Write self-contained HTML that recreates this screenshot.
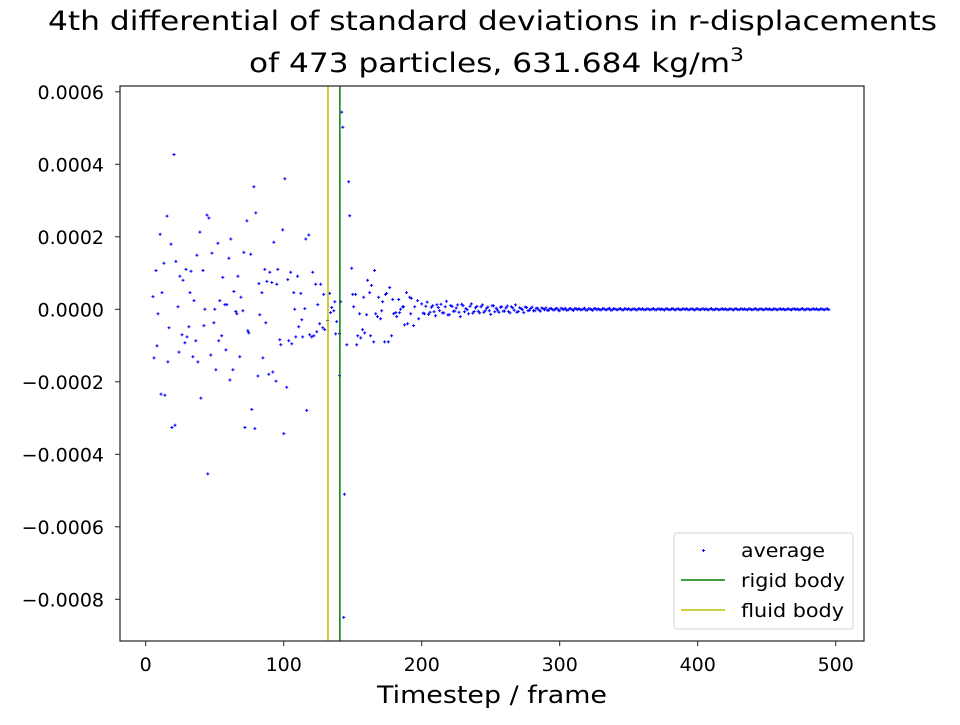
<!DOCTYPE html>
<html><head><meta charset="utf-8"><style>
body{margin:0;background:#fff;}
svg text{font-family:"DejaVu Sans","Liberation Sans",sans-serif;fill:#000;}
</style></head><body>
<svg id="chart" width="960" height="720" viewBox="0 0 960 720" xmlns="http://www.w3.org/2000/svg">
<rect x="0" y="0" width="960" height="720" fill="#fff"/>
<g>
<text x="48" y="30" font-size="27" textLength="889" lengthAdjust="spacingAndGlyphs">4th differential of standard deviations in r-displacements</text>
<text x="249" y="72" font-size="27" textLength="495" lengthAdjust="spacingAndGlyphs">of 473 particles, 631.684 kg/m<tspan font-size="19" dy="-11">3</tspan></text>
</g>
<g id="marks"></g>
<g id="axes"></g>
<rect x="120" y="86" width="744" height="555" fill="none" stroke="#222" stroke-width="1.2"/>
<text x="377" y="703" font-size="24" textLength="230" lengthAdjust="spacingAndGlyphs">Timestep / frame</text>
<g>
<rect x="674" y="533" width="179" height="96" rx="3" fill="#fff" stroke="#d5d5d5"/>
<g><path d="M702 550.5h3M703.5 549v3" stroke="#00f" stroke-width="1"/><text x="741" y="557" font-size="19" textLength="84" lengthAdjust="spacingAndGlyphs">average</text></g>
<g><line x1="681" y1="580" x2="725" y2="580" stroke="#008000" stroke-width="1.5"/><text x="741" y="587" font-size="19" textLength="104" lengthAdjust="spacingAndGlyphs">rigid body</text></g>
<g><line x1="681" y1="610" x2="725" y2="610" stroke="#bfbf00" stroke-width="1.5"/><text x="741" y="617" font-size="19" textLength="103" lengthAdjust="spacingAndGlyphs">fluid body</text></g>
</g>
</svg>
<script>
const xTicks=[0,100,200,300,400,500];
const yTicks=[0.0006,0.0004,0.0002,0,-0.0002,-0.0004,-0.0006,-0.0008];
const yTickLabels=["0.0006","0.0004","0.0002","0.0000","\u22120.0002","\u22120.0004","\u22120.0006","\u22120.0008"];
const rigidFrame=140.7;
const fluidFrame=132.1;
// scattered points: frames and values (units of 1e-4)
const frames=[20.5,78.4,15.4,44.4,45.8,79.8,73.3,10.4,39.3,61.7,18.3,52.3,37.1,48,71.1,76.1,60.3,13.2,21.9,7.5,29.2,32.8,41.5,24.8,27,55.9,66.8,5.3,11.8,32.1,63.9,69,35,53.7,57.4,58.8,23.4,8.9,42.9,50.1,65.3,66,70.4,16.9,31.3,42.2,49.4,26.3,29.9,55.1,74,74.7,28.4,36.3,53,8.2,24.1,58.1,6,16.1,34.2,37.8,47.2,68.2,50.9,63.2,61,81.3,11.1,13.9,40,76.9,19,21.2,71.9,79.1,45,
142,142.8,100.8,147.1,147.8,99.3,92.8,116,118.2,86.3,89.9,95.7,105.1,110.1,121,149.3,165.9,82,87.8,91.4,95,103,123.2,126.8,160.8,163.6,84.2,107.3,112.4,129,133.3,150,152.1,162.3,176.8,173.8,174.6,158,168.8,179,183.3,189,191.3,192.5,197,137,141.3,124.7,171.7,150.7,186.2,186.9,194.9,134.8,108,115.3,136.3,134,171,184.7,82.7,155,160.1,166.7,179.7,181.2,184,192,168,170.2,181.9,197.8,87,113.1,110.9,126.1,128.3,129.7,131.9,138.4,187.6,189.8,194.1,124,157.2,158.7,108.8,113.8,118.8,120.3,121.8,137.7,153.6,155.8,163,178.2,97.2,97.9,103.7,105.9,145.7,152.9,165.2,173.1,175.9,84.9,89.2,92.1,94.4,102.2,116.7,100.1,140.5,144,143.5,140.4];
const values=[4.27,3.38,2.57,2.6,2.52,2.66,2.44,2.07,2.13,1.94,1.8,1.82,1.49,1.55,1.57,1.52,1.41,1.27,1.32,1.07,1.1,1.05,1.07,0.91,0.8,0.88,0.91,0.35,0.46,0.46,0.49,0.33,0.24,0.24,0.13,0.13,0.07,-0.12,0,0,-0.06,-0.12,-0.04,-0.51,-0.48,-0.45,-0.37,-0.7,-0.76,-0.73,-0.59,-0.65,-0.92,-0.87,-0.87,-1.01,-1.18,-1.12,-1.34,-1.45,-1.31,-1.45,-1.26,-1.31,-1.67,-1.67,-1.95,-1.84,-2.34,-2.37,-2.45,-2.76,-3.26,-3.2,-3.26,-3.29,-4.54,
5.44,5.02,3.6,3.52,2.58,2.19,1.85,1.94,2.05,1.1,1.02,1.1,1.02,0.91,1.02,1.13,1.07,0.71,0.77,0.74,0.69,0.82,0.69,0.69,0.8,0.66,0.46,0.46,0.44,0.41,0.44,0.41,0.41,0.46,0.6,0.41,0.44,0.33,0.33,0.27,0.27,0.46,0.33,0.3,0.24,0.21,0.21,0.13,0.21,0.07,0.07,0.07,0.07,0.05,0,0.02,-0.04,-0.09,-0.04,0,-0.15,-0.12,-0.15,-0.12,-0.12,-0.09,-0.09,-0.12,-0.2,-0.26,-0.2,-0.26,-0.37,-0.29,-0.48,-0.4,-0.51,-0.56,-0.31,-0.34,-0.43,-0.4,-0.45,-0.62,-0.56,-0.65,-0.76,-0.76,-0.7,-0.76,-0.73,-0.68,-0.73,-0.79,-0.73,-0.73,-0.84,-0.98,-0.87,-0.95,-0.98,-0.98,-0.9,-0.9,-0.9,-1.34,-1.79,-1.73,-1.98,-2.15,-2.79,-3.43,-1.83,-5.1,-8.5,-0.67];
// tail: frames 200..496 step 2, values (units of 1e-4)
const tailStart=200;
const tailStep=2;
const tailValues=[0.15,-0.12,0.2,-0.08,0.1,-0.18,0.05,0.14,-0.1,0.22,-0.15,0.08,-0.05,0.12,-0.2,0.1,0.02,-0.12,0.15,-0.06,0.08,-0.1,0.12,-0.04,0.06,-0.14,0.1,0.03,-0.08,0.07,-0.05,0.09,-0.1,0.04,0.12,-0.06,0.02,-0.09,0.05,-0.03,0.06,-0.04,0.03,-0.05,0.02,0.04,-0.03,0.02,-0.02,0.03,-0.04,0.01,0.03,-0.02,0.02,-0.03,0.01,0.02,-0.01,0.03,-0.02,0.01,-0.03,0.02,0.01,-0.02,0.02,-0.01,0.03,-0.02,0.01,-0.01,0.02,-0.02,0.01,0.02,-0.01,0.01,-0.02,0.01,0.02,-0.01,0.01,-0.01,0.02,-0.01,0.01,0.01,-0.02,0.01,-0.01,0.02,-0.01,0.01,-0.01,0.01,0.02,-0.01,0.01,-0.02,0.01,-0.01,0.01,0.01,-0.01,0.02,-0.01,0.01,-0.01,0.01,0.01,-0.01,0.01,-0.02,0.01,-0.01,0.01,0.01,-0.01,0.01,-0.01,0.02,-0.01,0.01,-0.01,0.01,0.01,-0.01,0.01,-0.01,0.01,0.01,-0.01,0.01,-0.01,0.01,0.01,-0.01,0.02,-0.01,0.01,-0.01,0.01,0.01,-0.01,0.01,-0.01,0.01];

const NS="http://www.w3.org/2000/svg";
const X=f=>145.7+f*1.38;
const Y=v=>309.3-v/0.0002*72.5;
const marks=document.getElementById('marks');
const axes=document.getElementById('axes');
function mk(tag,attrs,parent){const e=document.createElementNS(NS,tag);for(const k in attrs)e.setAttribute(k,attrs[k]);parent.appendChild(e);return e;}
let d="";
function addPt(f,v){const x=X(f),y=Y(v*1e-4);d+=`M${(x-1.5).toFixed(1)} ${y.toFixed(1)}h3M${x.toFixed(1)} ${(y-1.5).toFixed(1)}v3`;}
for(let i=0;i<frames.length;i++)addPt(frames[i],values[i]);
for(let i=0;i<tailValues.length;i++){addPt(tailStart+i*tailStep,tailValues[i]);addPt(tailStart+i*tailStep+1,-tailValues[i]*0.7);}
const pts=mk('path',{d:d,stroke:'#00f','stroke-width':1,fill:'none'},marks);


const fl=mk('line',{x1:X(fluidFrame),x2:X(fluidFrame),y1:86,y2:641,stroke:'#bfbf00','stroke-width':1.5},marks);


const rl=mk('line',{x1:X(rigidFrame),x2:X(rigidFrame),y1:86,y2:641,stroke:'#008000','stroke-width':1.5},marks);


xTicks.forEach(t=>{
  const g=mk('g',{},axes);
  
  
  mk('line',{x1:X(t),x2:X(t),y1:641,y2:646,stroke:'#222'},g);
  const tx=mk('text',{x:X(t),y:671,'font-size':19,'text-anchor':'middle'},g);tx.textContent=t;
});
yTicks.forEach((t,i)=>{
  const g=mk('g',{},axes);
  
  
  mk('line',{x1:115,x2:120,y1:Y(t),y2:Y(t),stroke:'#222'},g);
  const tx=mk('text',{x:104,y:Y(t)+7,'font-size':19,'text-anchor':'end'},g);tx.textContent=yTickLabels[i];
});
</script>
</body></html>
